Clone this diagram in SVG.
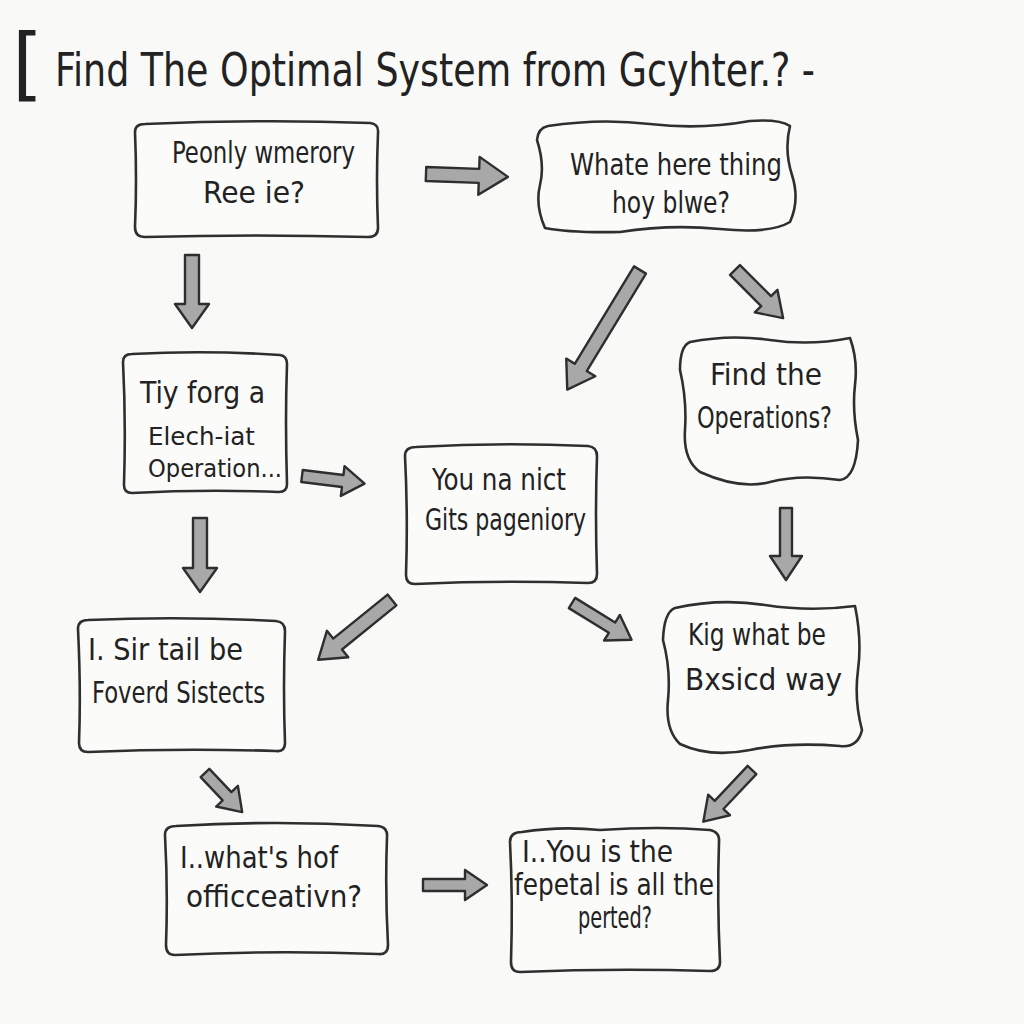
<svg xmlns="http://www.w3.org/2000/svg" width="1024" height="1024" viewBox="0 0 1024 1024">
<style>
.bg{fill:#f9f9f8}
.box{fill:#fbfbfa;stroke:#2f2f2f;stroke-width:2.6;stroke-linejoin:round}
.t{font-family:"DejaVu Sans Condensed","DejaVu Sans","Liberation Sans",sans-serif;fill:#222;font-size:30px}
.s{font-size:25px}
.title{font-family:"DejaVu Sans Condensed","DejaVu Sans","Liberation Sans",sans-serif;fill:#222;font-size:46px}
.br{font-family:"DejaVu Sans","Liberation Sans",sans-serif;fill:#222;font-size:80px}
.arr{fill:#a8a8a8;stroke:#2e2e2e;stroke-width:2.4;stroke-linejoin:round}
</style>
<rect class="bg" x="0" y="0" width="1024" height="1024"/>
<g id="title">
<text class="br" x="12" y="91">[</text>
<text class="title" x="55" y="86" textLength="760" lengthAdjust="spacingAndGlyphs">Find The Optimal System from Gcyhter.? -</text>
</g>
<g id="n1">
<path class="box" d="M145,124 Q260,119 370,123 Q379,124 378,133 Q376,180 378,228 Q378,237 368,237 Q255,234 145,237 Q135,237 135,227 Q137,180 135,132 Q135,124 145,124 Z"/>
<text class="t" x="172" y="163" textLength="183" lengthAdjust="spacingAndGlyphs">Peonly wmerory</text>
<text class="t" x="203" y="203" textLength="102" lengthAdjust="spacingAndGlyphs">Ree ie?</text>
</g>
<g id="n2">
<path class="box" d="M548,126 Q600,118 650,124 T750,121 Q780,119 790,126 Q784,150 792,175 T790,222 Q770,234 720,229 T620,232 Q570,233 545,228 Q535,205 540,185 T537,140 Q538,128 548,126 Z"/>
<text class="t" x="570" y="175" textLength="212" lengthAdjust="spacingAndGlyphs">Whate here thing</text>
<text class="t" x="612" y="213" textLength="118" lengthAdjust="spacingAndGlyphs">hoy blwe?</text>
</g>
<g id="n3">
<path class="box" d="M132,354 Q205,350 280,355 Q287,356 287,364 Q285,420 287,484 Q287,492 279,492 Q205,489 132,493 Q124,493 124,485 Q126,420 123,362 Q123,354 132,354 Z"/>
<text class="t" x="140" y="403" textLength="125" lengthAdjust="spacingAndGlyphs">Tiy forg a</text>
<text class="t s" x="148" y="445" textLength="107" lengthAdjust="spacingAndGlyphs">Elech-iat</text>
<text class="t s" x="148" y="477" textLength="134" lengthAdjust="spacingAndGlyphs">Operation...</text>
</g>
<g id="n4">
<path class="box" d="M690,342 Q730,334 770,340 T850,338 Q858,360 855,385 T858,440 Q856,478 840,480 Q800,474 770,482 T700,472 Q683,460 685,430 T680,370 Q680,346 690,342 Z"/>
<text class="t" x="710" y="385" textLength="112" lengthAdjust="spacingAndGlyphs">Find the</text>
<text class="t" x="697" y="428" textLength="135" lengthAdjust="spacingAndGlyphs">Operations?</text>
</g>
<g id="n5">
<path class="box" d="M416,447 Q500,442 588,446 Q597,447 597,456 Q595,515 597,574 Q597,583 588,583 Q500,580 415,584 Q406,584 406,575 Q408,515 405,456 Q405,447 416,447 Z"/>
<text class="t" x="432" y="490" textLength="134" lengthAdjust="spacingAndGlyphs">You na nict</text>
<text class="t" x="425" y="530" textLength="161" lengthAdjust="spacingAndGlyphs">Gits pageniory</text>
</g>
<g id="n6">
<path class="box" d="M88,620 Q180,616 276,621 Q285,622 285,631 Q283,690 285,743 Q285,752 276,751 Q180,748 88,752 Q79,752 79,743 Q81,690 78,629 Q78,620 88,620 Z"/>
<text class="t" x="88" y="660" textLength="155" lengthAdjust="spacingAndGlyphs">I. Sir tail be</text>
<text class="t" x="92" y="703" textLength="173" lengthAdjust="spacingAndGlyphs">Foverd Sistects</text>
</g>
<g id="n7">
<path class="box" d="M675,608 Q720,598 765,605 T855,606 Q862,640 858,670 T862,730 Q858,748 840,746 Q790,742 750,750 T680,744 Q665,730 668,700 T663,640 Q664,612 675,608 Z"/>
<text class="t" x="688" y="645" textLength="138" lengthAdjust="spacingAndGlyphs">Kig what be</text>
<text class="t" x="685" y="690" textLength="157" lengthAdjust="spacingAndGlyphs">Bxsicd way</text>
</g>
<g id="n8">
<path class="box" d="M176,826 Q275,820 378,826 Q388,827 387,837 Q385,890 388,945 Q388,955 378,954 Q275,950 175,955 Q166,955 166,945 Q168,890 165,835 Q165,826 176,826 Z"/>
<text class="t" x="180" y="868" textLength="158" lengthAdjust="spacingAndGlyphs">I..what's hof</text>
<text class="t" x="186" y="907" textLength="176" lengthAdjust="spacingAndGlyphs">officceativn?</text>
</g>
<g id="n9">
<path class="box" d="M522,832 Q560,826 600,830 Q660,826 710,830 Q720,832 719,842 Q717,900 720,962 Q720,971 710,971 Q615,968 520,972 Q511,972 511,962 Q513,900 510,842 Q510,832 522,832 Z"/>
<text class="t" x="522" y="862" textLength="151" lengthAdjust="spacingAndGlyphs">I..You is the</text>
<text class="t" x="514" y="895" textLength="200" lengthAdjust="spacingAndGlyphs">fepetal is all the</text>
<text class="t" x="578" y="928" textLength="74" lengthAdjust="spacingAndGlyphs">perted?</text>
</g>
<g id="connectors">
<path class="arr" transform="translate(426,174) rotate(2)" d="M0,-7 H53 V-19 L82,0 L53,19 V7 H0 Z"/>
<path class="arr" transform="translate(192,255) rotate(90)" d="M0,-7 H49 V-17 L73,0 L49,17 V7 H0 Z"/>
<path class="arr" transform="translate(640,270) rotate(121.3)" d="M0,-7 H114 V-17 L140,0 L114,17 V7 H0 Z"/>
<path class="arr" transform="translate(735,270) rotate(45)" d="M0,-7 H44 V-16 L68,0 L44,16 V7 H0 Z"/>
<path class="arr" transform="translate(302,476) rotate(7)" d="M0,-6 H41 V-15 L63,0 L41,15 V6 H0 Z"/>
<path class="arr" transform="translate(200,518) rotate(90)" d="M0,-7 H50 V-17 L74,0 L50,17 V7 H0 Z"/>
<path class="arr" transform="translate(786,508) rotate(90)" d="M0,-6 H48 V-16 L72,0 L48,16 V6 H0 Z"/>
<path class="arr" transform="translate(392,600) rotate(141)" d="M0,-7 H70 V-17 L95,0 L70,17 V7 H0 Z"/>
<path class="arr" transform="translate(572,603) rotate(31.7)" d="M0,-6 H47 V-15 L70,0 L47,15 V6 H0 Z"/>
<path class="arr" transform="translate(205,773) rotate(46.5)" d="M0,-6 H32 V-15 L54,0 L32,15 V6 H0 Z"/>
<path class="arr" transform="translate(752,770) rotate(133.3)" d="M0,-6 H48 V-15 L71,0 L48,15 V6 H0 Z"/>
<path class="arr" transform="translate(423,885) rotate(0)" d="M0,-6 H42 V-15 L64,0 L42,15 V6 H0 Z"/>
</g>
</svg>
